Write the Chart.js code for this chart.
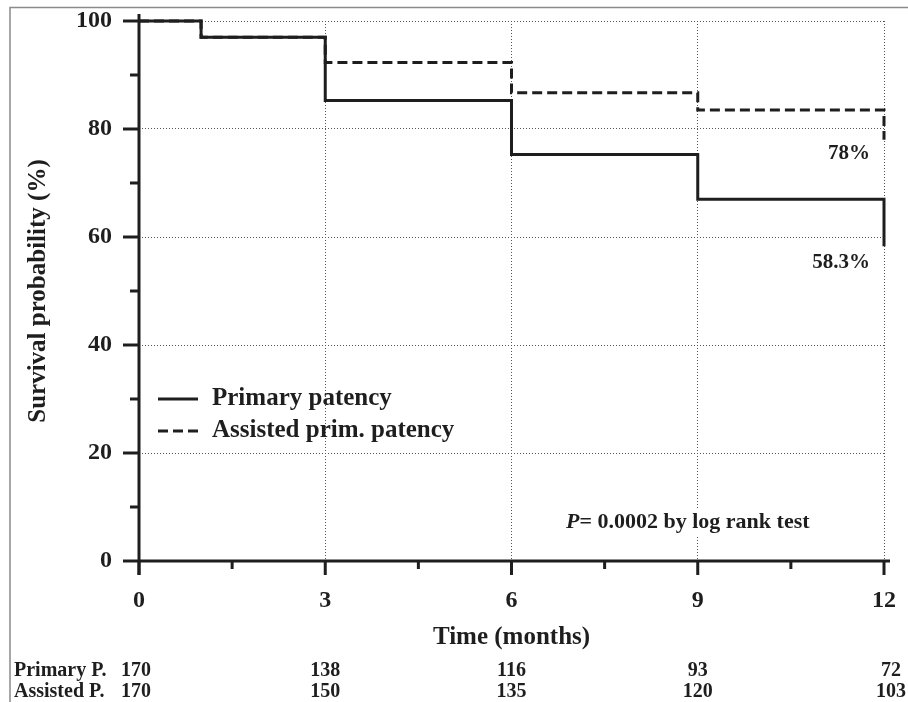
<!DOCTYPE html>
<html>
<head>
<meta charset="utf-8">
<script src="https://cdn.jsdelivr.net/npm/chart.js@4.4.1/dist/chart.umd.min.js"></script>
<style>
  html, body { margin: 0; padding: 0; background: #fff; }
  canvas { display: block; }
</style>
</head>
<body>
<canvas id="c" width="908" height="702"></canvas>
<script>
// ---- data ----
const times = [0, 1, 3, 6, 9, 12];
const primaryPatency = [100, 97, 85.3, 75.3, 67, 58.3];
const assistedPatency = [100, 97, 92.3, 86.7, 83.5, 78];
const seriesLabels = ['Primary patency', 'Assisted prim. patency'];
const xTickValues = [0, 3, 6, 9, 12];
const yTickValues = [0, 20, 40, 60, 80, 100];
const riskTimes = [0, 3, 6, 9, 12];
const riskPrimary = [170, 138, 116, 93, 72];
const riskAssisted = [170, 150, 135, 120, 103];
const riskLabels = ['Primary P.', 'Assisted P.'];
const endLabels = ['58.3%', '78%'];
const pText = '= 0.0002 by log rank test';

const FONT = "'Liberation Serif', 'Times New Roman', serif";
const INK = '#1e1e1e';

function pts(vals) { return times.map((t, i) => ({ x: t, y: vals[i] })); }

const overlay = {
  id: 'overlay',
  afterDraw(chart) {
    const ctx = chart.ctx;
    const xs = chart.scales.x, ys = chart.scales.y;
    const x0 = xs.getPixelForValue(0), x12 = xs.getPixelForValue(12);
    const y0 = ys.getPixelForValue(0), y100 = ys.getPixelForValue(100);
    ctx.save();
    ctx.strokeStyle = INK;
    ctx.lineCap = 'butt';
    // axes lines
    ctx.lineWidth = 3;
    ctx.beginPath();
    ctx.moveTo(x0, y100 - 7); ctx.lineTo(x0, y0 + 14);
    ctx.moveTo(x0, y0); ctx.lineTo(x12 + 6, y0);
    ctx.stroke();
    // y ticks
    for (let v = 0; v <= 100; v += 10) {
      const y = ys.getPixelForValue(v);
      const major = v % 20 === 0;
      ctx.beginPath();
      ctx.moveTo(x0 - (major ? 16 : 9), y); ctx.lineTo(x0, y);
      ctx.stroke();
    }
    // x ticks
    for (let t = 0; t <= 12; t += 1.5) {
      const x = xs.getPixelForValue(t);
      const major = t % 3 === 0;
      ctx.beginPath();
      ctx.moveTo(x, y0); ctx.lineTo(x, y0 + (major ? 14 : 8));
      ctx.stroke();
    }
    // legend
    const lx = 158, ly1 = 399, ly2 = 431;
    ctx.lineWidth = 3;
    ctx.beginPath(); ctx.moveTo(lx, ly1); ctx.lineTo(lx + 40, ly1); ctx.stroke();
    ctx.setLineDash([10, 5]);
    ctx.beginPath(); ctx.moveTo(lx, ly2); ctx.lineTo(lx + 40, ly2); ctx.stroke();
    ctx.setLineDash([]);
    ctx.fillStyle = INK;
    ctx.font = 'bold 25px ' + FONT;
    ctx.textBaseline = 'middle';
    ctx.textAlign = 'left';
    ctx.fillText(seriesLabels[0], 212, ly1);
    ctx.fillText(seriesLabels[1], 212, ly2);
    // end labels
    ctx.font = 'bold 21px ' + FONT;
    ctx.textAlign = 'center';
    ctx.fillText(endLabels[1], 849, 154);
    ctx.fillText(endLabels[0], 841, 263);
    // p value (white backing hides grid line behind text)
    ctx.textAlign = 'left';
    const px = 566, py = 522;
    ctx.font = 'italic bold 22px ' + FONT;
    const pw = ctx.measureText('P').width;
    ctx.font = 'bold 22px ' + FONT;
    const tw = ctx.measureText(pText).width;
    ctx.fillStyle = '#fff';
    ctx.fillRect(px - 2, py - 13, pw + tw + 4, 26);
    ctx.fillStyle = INK;
    ctx.font = 'italic bold 22px ' + FONT;
    ctx.fillText('P', px, py);
    ctx.font = 'bold 22px ' + FONT;
    ctx.fillText(pText, px + pw, py);
    // numbers at risk
    ctx.font = 'bold 20px ' + FONT;
    const rows = [riskPrimary, riskAssisted];
    const rowY = [671, 692];
    rows.forEach((row, r) => {
      ctx.textAlign = 'left';
      ctx.fillText(riskLabels[r], 14, rowY[r]);
      row.forEach((n, i) => {
        let x = xs.getPixelForValue(riskTimes[i]);
        if (i === 0) x -= 3;
        if (i === row.length - 1) x += 7;
        ctx.textAlign = 'center';
        ctx.fillText(String(n), x, rowY[r]);
      });
    });
    // outer frame (top + left)
    ctx.strokeStyle = '#8a8a8a';
    ctx.lineWidth = 1.5;
    ctx.beginPath();
    ctx.moveTo(10, 702); ctx.lineTo(10, 7.5); ctx.lineTo(908, 7.5);
    ctx.stroke();
    ctx.restore();
  }
};

new Chart(document.getElementById('c'), {
  type: 'line',
  data: {
    datasets: [
      {
        label: seriesLabels[0], data: pts(primaryPatency), stepped: 'before',
        borderColor: INK, borderWidth: 3, pointRadius: 0, fill: false, order: 0, clip: false
      },
      {
        label: seriesLabels[1], data: pts(assistedPatency), stepped: 'before',
        borderColor: INK, borderWidth: 3, borderDash: [10, 5], pointRadius: 0, fill: false, order: 1, clip: false
      }
    ]
  },
  options: {
    responsive: false,
    animation: false,
    layout: { padding: { left: 0, right: 24, top: 21, bottom: 0 } },
    plugins: { legend: { display: false }, tooltip: { enabled: false } },
    scales: {
      x: {
        type: 'linear', min: 0, max: 12,
        afterBuildTicks: s => { s.ticks = xTickValues.map(v => ({ value: v })); },
        afterFit: s => { s.height = 141; s.paddingLeft = 0; s.paddingRight = 0; },
        grid: {
          drawTicks: false,
          color: c => (c.tick && c.tick.value > 0) ? '#555' : 'rgba(0,0,0,0)',
          lineWidth: 1
        },
        border: { display: false, dash: [1, 2] },
        ticks: {
          padding: 25, color: INK, maxRotation: 0, autoSkip: false,
          font: { family: FONT, size: 24, weight: 'bold' }
        },
        title: {
          display: true, text: 'Time (months)', color: INK,
          font: { family: FONT, size: 25, weight: 'bold' },
          padding: { top: 0, bottom: 49 }
        }
      },
      y: {
        type: 'linear', min: 0, max: 100,
        afterBuildTicks: s => { s.ticks = yTickValues.map(v => ({ value: v })); },
        afterFit: s => { s.width = 139; s.paddingTop = 0; s.paddingBottom = 0; },
        grid: {
          drawTicks: false,
          color: c => (c.tick && c.tick.value > 0) ? '#555' : 'rgba(0,0,0,0)',
          lineWidth: 1
        },
        border: { display: false, dash: [1, 2] },
        ticks: {
          padding: 27, color: INK,
          font: { family: FONT, size: 24, weight: 'bold' }
        },
        title: {
          display: true, text: 'Survival probability (%)', color: INK,
          font: { family: FONT, size: 25, weight: 'bold' },
          padding: { top: 24, bottom: 0 }
        }
      }
    }
  },
  plugins: [overlay]
});
</script>
</body>
</html>
